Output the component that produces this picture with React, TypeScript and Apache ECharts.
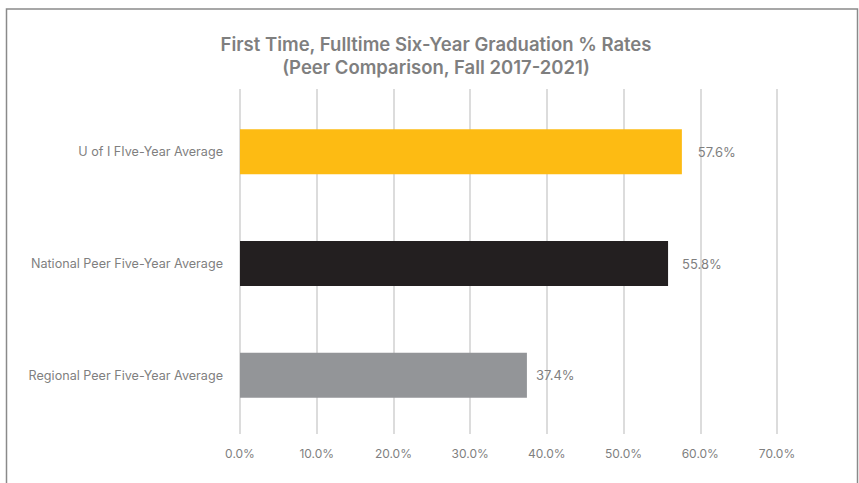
import React, { useEffect, useRef } from "react";
import * as echarts from "echarts";

const categories = [
  "Regional Peer Five-Year Average",
  "National Peer Five-Year Average",
  "U of I FIve-Year Average",
];
const values = [37.4, 55.8, 57.6];
const barColors = ["#939598", "#231f20", "#fdbb13"];
const labelDistances = [9, 14, 16];
const titleLines = [
  "First Time, Fulltime Six-Year Graduation % Rates",
  "(Peer Comparison, Fall 2017-2021)",
];

const FONT = "Inter, Roboto, sans-serif";
const GRAY = "#7f7f7f";

export default function App() {
  const ref = useRef<HTMLDivElement>(null);
  useEffect(() => {
    if (!ref.current) return;
    const chart = echarts.init(ref.current, null, { renderer: "svg" });
    chart.setOption({
      animation: false,
      backgroundColor: "#ffffff",
      title: {
        text: titleLines.join("\n"),
        left: 431,
        textAlign: "center",
        top: 28,
        textStyle: {
          fontFamily: FONT,
          fontSize: 18.5,
          fontWeight: 600,
          color: GRAY,
          lineHeight: 22.5,
        },
      },
      graphic: [
        {
          type: "rect",
          shape: { x: 6.5, y: 9, width: 851, height: 600 },
          style: { fill: "none", stroke: "#8a8a8a", lineWidth: 1.5 },
          silent: true,
        },
      ],
      grid: [
        { left: 240, top: 89, width: 537, height: 345 },
        { left: 240, top: 96, width: 537, height: 335 },
      ],
      xAxis: [
        {
          gridIndex: 0,
          type: "value",
          min: 0,
          max: 70,
          interval: 10,
          axisLine: { show: false },
          axisTick: { show: false },
          splitLine: { show: true, lineStyle: { color: "#d0d0d0", width: 1.5 } },
          axisLabel: {
            formatter: (v: number) => v.toFixed(1) + "%",
            fontFamily: FONT,
            fontSize: 12,
            color: GRAY,
            margin: 13,
          },
        },
        {
          gridIndex: 1,
          type: "value",
          min: 0,
          max: 70,
          interval: 10,
          show: false,
          splitLine: { show: false },
        },
      ],
      yAxis: [
        {
          gridIndex: 0,
          type: "category",
          data: categories,
          show: false,
        },
        {
          gridIndex: 1,
          type: "category",
          data: categories,
          axisLine: { show: false },
          axisTick: { show: false },
          axisLabel: {
            fontFamily: FONT,
            fontSize: 12.6,
            color: GRAY,
            margin: 17,
          },
        },
      ],
      series: [
        {
          type: "bar",
          xAxisIndex: 1,
          yAxisIndex: 1,
          barWidth: 45,
          data: values.map((v, i) => ({
            value: v,
            itemStyle: { color: barColors[i] },
            label: { distance: labelDistances[i] },
          })),
          label: {
            show: true,
            position: "right",
            formatter: (p: any) => p.value.toFixed(1) + "%",
            fontFamily: FONT,
            fontSize: 13,
            color: GRAY,
          },
        },
      ],
    });
    return () => chart.dispose();
  }, []);
  return (
    <div
      ref={ref}
      style={{ position: "fixed", left: 0, top: 0, width: 859, height: 483 }}
    />
  );
}
